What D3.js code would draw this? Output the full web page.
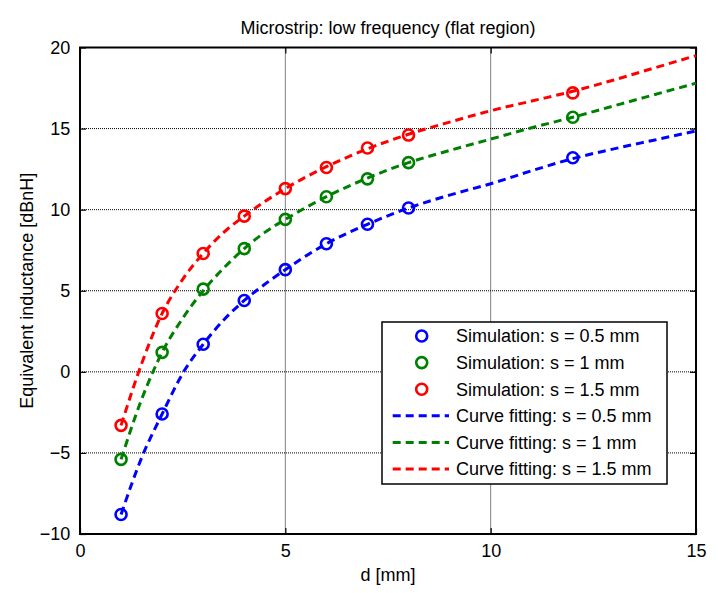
<!DOCTYPE html>
<html>
<head>
<meta charset="utf-8">
<script src="https://cdn.jsdelivr.net/npm/d3@7"></script>
<style>
  html, body { margin: 0; padding: 0; background: #fff; }
  svg { display: block; }
  text { font-family: "Liberation Sans", Arial, Helvetica, sans-serif; fill: #000; }
</style>
</head>
<body>
<svg id="chart" width="718" height="593"></svg>
<script>
// Simulated equivalent inductance at each strip separation d [mm]
const simD = [1, 2, 3, 4, 5, 6, 7, 8, 12];
const simS05 = [-8.8, -2.6, 1.7, 4.4, 6.3, 7.9, 9.1, 10.1, 13.2];
const simS10 = [-5.4, 1.2, 5.1, 7.6, 9.4, 10.8, 11.9, 12.9, 15.7];
const simS15 = [-3.3, 3.6, 7.3, 9.6, 11.3, 12.6, 13.8, 14.6, 17.2];

// Fitted curves, sampled along d
const fitD = [1, 1.5, 2, 2.5, 3, 3.5, 4, 4.5, 5, 6, 7, 8, 9, 10, 11, 12, 13, 14, 15];
const fitS05 = [-8.8, -5.3, -2.6, -0.1, 1.7, 3.2, 4.4, 5.4, 6.3, 7.9, 9.1, 10.1, 10.9, 11.6, 12.4, 13.15, 13.75, 14.3, 14.85];
const fitS10 = [-5.4, -1.7, 1.2, 3.3, 5.0, 6.4, 7.6, 8.6, 9.4, 10.8, 11.95, 12.9, 13.65, 14.35, 15.05, 15.7, 16.4, 17.1, 17.8];
const fitS15 = [-3.3, 0.5, 3.6, 5.7, 7.3, 8.6, 9.6, 10.5, 11.3, 12.65, 13.75, 14.65, 15.4, 16.1, 16.7, 17.3, 18.0, 18.75, 19.5];

const xTicks = [0, 5, 10, 15];
const yTicks = [-10, -5, 0, 5, 10, 15, 20];

const seriesColors = ["#0000ff", "#008000", "#ff0000"];
const simLabels = ["Simulation: s = 0.5 mm", "Simulation: s = 1 mm", "Simulation: s = 1.5 mm"];
const fitLabels = ["Curve fitting: s = 0.5 mm", "Curve fitting: s = 1 mm", "Curve fitting: s = 1.5 mm"];

const svg = d3.select("#chart");
const plot = { left: 80, right: 696, top: 47.5, bottom: 534 };

const x = d3.scaleLinear().domain([0, 15]).range([plot.left, plot.right]);
const y = d3.scaleLinear().domain([-10, 20]).range([plot.bottom, plot.top]);

// dotted grid
const grid = svg.append("g");
grid.selectAll("line.gx").data(xTicks.filter(t => t > 0 && t < 15)).join("line")
  .attr("x1", d => x(d)).attr("x2", d => x(d))
  .attr("y1", plot.top).attr("y2", plot.bottom)
  .attr("stroke", "#000").attr("stroke-width", 1).attr("stroke-dasharray", "1,1");
grid.selectAll("line.gy").data(yTicks.filter(t => t > -10 && t < 20)).join("line")
  .attr("y1", d => y(d)).attr("y2", d => y(d))
  .attr("x1", plot.left).attr("x2", plot.right)
  .attr("stroke", "#000").attr("stroke-width", 1).attr("stroke-dasharray", "1,1");

// axes with inward ticks on all four sides
const fontSize = 18;
const axB = svg.append("g").attr("transform", `translate(0,${plot.bottom})`)
  .call(d3.axisBottom(x).tickValues(xTicks).tickSizeInner(-6).tickSizeOuter(0).tickPadding(10));
const axT = svg.append("g").attr("transform", `translate(0,${plot.top})`)
  .call(d3.axisTop(x).tickValues(xTicks).tickSizeInner(-6).tickSizeOuter(0).tickFormat(""));
const axL = svg.append("g").attr("transform", `translate(${plot.left},0)`)
  .call(d3.axisLeft(y).tickValues(yTicks).tickSizeInner(-6).tickSizeOuter(0).tickPadding(8));
const axR = svg.append("g").attr("transform", `translate(${plot.right},0)`)
  .call(d3.axisRight(y).tickValues(yTicks).tickSizeInner(-6).tickSizeOuter(0).tickFormat(""));

[axB, axT, axL, axR].forEach(a => {
  a.select(".domain").remove();
  a.selectAll(".tick line").attr("stroke", "#000").attr("stroke-width", 1.2);
  a.selectAll(".tick text").attr("font-size", fontSize).attr("font-family", "Liberation Sans, Arial, sans-serif").attr("fill", "#000");
});
axL.selectAll(".tick text").attr("dx", "-0.1em");

svg.append("rect")
  .attr("x", plot.left).attr("y", plot.top)
  .attr("width", plot.right - plot.left).attr("height", plot.bottom - plot.top)
  .attr("fill", "none").attr("stroke", "#000").attr("stroke-width", 2);

// data
const lineGen = d3.line().x(d => x(d[0])).y(d => y(d[1])).curve(d3.curveMonotoneX);
const fits = [fitS05, fitS10, fitS15];
const sims = [simS05, simS10, simS15];

svg.append("clipPath").attr("id", "plotClip").append("rect")
  .attr("x", plot.left).attr("y", plot.top)
  .attr("width", plot.right - plot.left).attr("height", plot.bottom - plot.top);

const dataG = svg.append("g").attr("clip-path", "url(#plotClip)");
fits.forEach((vals, i) => {
  dataG.append("path")
    .datum(fitD.map((d, k) => [d, vals[k]]))
    .attr("d", lineGen)
    .attr("fill", "none")
    .attr("stroke", seriesColors[i])
    .attr("stroke-width", 3)
    .attr("stroke-dasharray", "8,5");
});
sims.forEach((vals, i) => {
  dataG.selectAll(null).data(simD.map((d, k) => [d, vals[k]])).join("circle")
    .attr("cx", d => x(d[0])).attr("cy", d => y(d[1]))
    .attr("r", 5.5)
    .attr("fill", "none")
    .attr("stroke", seriesColors[i])
    .attr("stroke-width", 2.6);
});

// legend
const lg = { left: 382, right: 667, top: 322, bottom: 484 };
const legend = svg.append("g");
legend.append("rect")
  .attr("x", lg.left).attr("y", lg.top)
  .attr("width", lg.right - lg.left).attr("height", lg.bottom - lg.top)
  .attr("fill", "#fff").attr("stroke", "#000").attr("stroke-width", 1.5);

const rowY0 = 336, rowStep = 26.6;
simLabels.forEach((label, i) => {
  const cy = rowY0 + i * rowStep;
  legend.append("circle")
    .attr("cx", 421.7).attr("cy", cy).attr("r", 5.5)
    .attr("fill", "none").attr("stroke", seriesColors[i]).attr("stroke-width", 2.6);
  legend.append("text")
    .attr("x", 456).attr("y", cy).attr("dy", "0.35em")
    .attr("font-size", fontSize).text(label);
});
fitLabels.forEach((label, i) => {
  const cy = rowY0 + (i + 3) * rowStep;
  legend.append("line")
    .attr("x1", 392.7).attr("x2", 449).attr("y1", cy).attr("y2", cy)
    .attr("stroke", seriesColors[i]).attr("stroke-width", 3).attr("stroke-dasharray", "8,5");
  legend.append("text")
    .attr("x", 456).attr("y", cy).attr("dy", "0.35em")
    .attr("font-size", fontSize).text(label);
});

// titles
svg.append("text")
  .attr("x", (plot.left + plot.right) / 2).attr("y", 28).attr("dy", "0.35em")
  .attr("text-anchor", "middle").attr("font-size", fontSize)
  .text("Microstrip: low frequency (flat region)");
svg.append("text")
  .attr("x", (plot.left + plot.right) / 2).attr("y", 575).attr("dy", "0.35em")
  .attr("text-anchor", "middle").attr("font-size", fontSize)
  .text("d [mm]");
svg.append("text")
  .attr("transform", `translate(27,${(plot.top + plot.bottom) / 2}) rotate(-90)`)
  .attr("dy", "0.35em")
  .attr("text-anchor", "middle").attr("font-size", fontSize)
  .text("Equivalent inductance [dBnH]");
</script>
</body>
</html>
